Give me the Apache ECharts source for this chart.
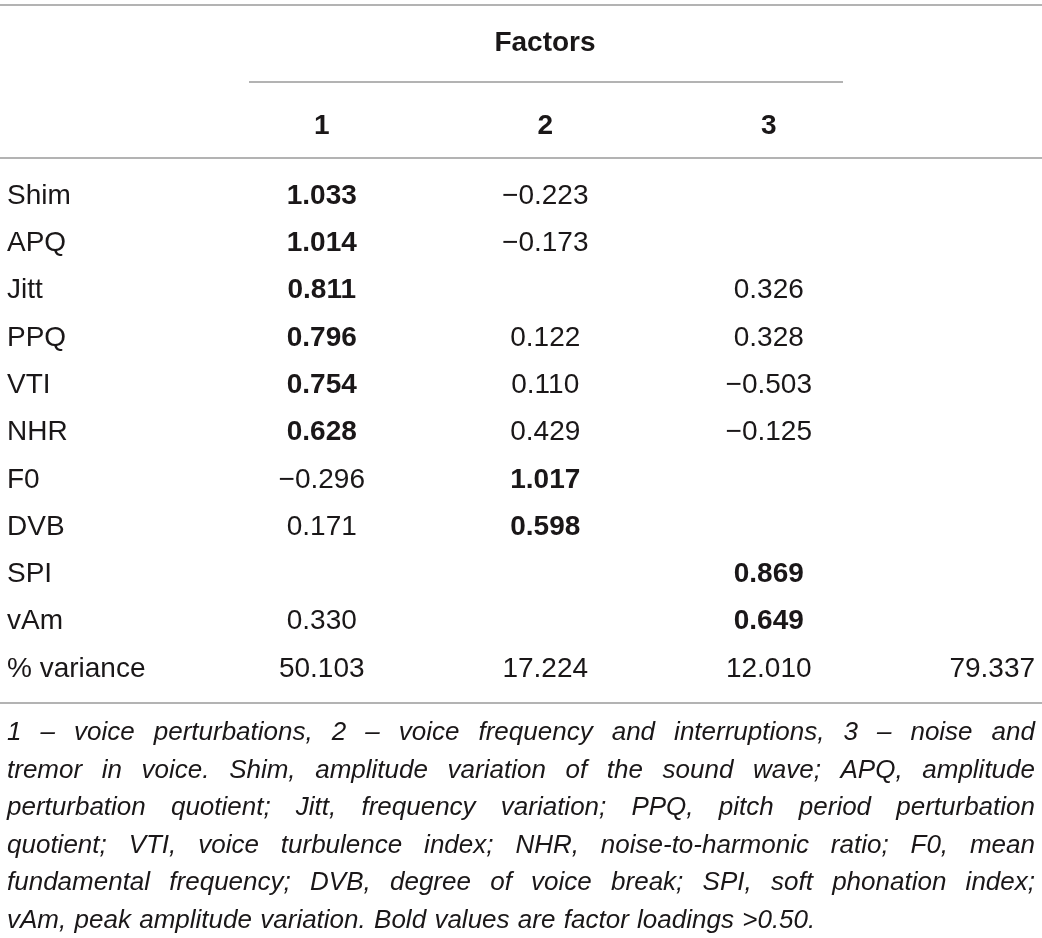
<!DOCTYPE html>
<html>
<head>
<meta charset="utf-8">
<script src="https://cdn.jsdelivr.net/npm/echarts@6/dist/echarts.min.js"></script>
<style>
  html, body { margin: 0; padding: 0; background: #fff; }
  #chart { width: 1042px; height: 938px; }
</style>
</head>
<body>
<div id="chart"></div>
<script>
// table data
var rowLabels = ['Shim', 'APQ', 'Jitt', 'PPQ', 'VTI', 'NHR', 'F0', 'DVB', 'SPI', 'vAm', '% variance'];
var factorLabels = ['1', '2', '3', ''];
var factor1 = [1.033, 1.014, 0.811, 0.796, 0.754, 0.628, -0.296, 0.171, null, 0.330, 50.103];
var factor2 = [-0.223, -0.173, null, 0.122, 0.110, 0.429, 1.017, 0.598, null, null, 17.224];
var factor3 = [null, null, 0.326, 0.328, -0.503, -0.125, null, null, 0.869, 0.649, 12.010];
var totalColumn = [null, null, null, null, null, null, null, null, null, null, 79.337];
var boldThreshold = 0.50;
var footnoteLines = [
  '1 – voice perturbations, 2 – voice frequency and interruptions, 3 – noise and',
  'tremor in voice. Shim, amplitude variation of the sound wave; APQ, amplitude',
  'perturbation quotient; Jitt, frequency variation; PPQ, pitch period perturbation',
  'quotient; VTI, voice turbulence index; NHR, noise-to-harmonic ratio; F0, mean',
  'fundamental frequency; DVB, degree of voice break; SPI, soft phonation index;',
  'vAm, peak amplitude variation. Bold values are factor loadings >0.50.'
];

var FONT = '"Liberation Sans", Arial, Helvetica, sans-serif';
var INK = '#1a1718';
var RULE = '#9a9a9a';

function formatValue(v) {
  var s = Math.abs(v).toFixed(3);
  return v < 0 ? '\u2212' + s : s;
}

function buildCells() {
  var columns = [factor1, factor2, factor3, totalColumn];
  var lastRow = rowLabels.length - 1;
  var cells = [];
  columns.forEach(function (col, c) {
    col.forEach(function (v, r) {
      if (v === null) return;
      var bold = r < lastRow && v > boldThreshold;
      cells.push({
        value: [c, r, v],
        label: { fontWeight: bold ? 'bold' : 'normal' }
      });
    });
  });
  return cells;
}

// justify footnote lines word by word, like the typeset caption
function buildFootnote(left, right, top, step) {
  var ctx = document.createElement('canvas').getContext('2d');
  var font = 'italic 26px ' + FONT;
  ctx.font = font;
  var items = [];
  footnoteLines.forEach(function (line, i) {
    var words = line.split(' ');
    var widths = words.map(function (w) { return ctx.measureText(w).width; });
    var total = widths.reduce(function (a, b) { return a + b; }, 0);
    var last = i === footnoteLines.length - 1;
    var gap = last ? ctx.measureText(' ').width * 1.15 : (right - left - total) / (words.length - 1);
    var x = left;
    words.forEach(function (w, k) {
      items.push({
        type: 'text',
        silent: true,
        style: { text: w, x: x, y: top + i * step, font: font, fill: INK, verticalAlign: 'middle' }
      });
      x += widths[k] + gap;
    });
  });
  return items;
}

function rule(x1, x2, y) {
  return {
    type: 'line',
    silent: true,
    shape: { x1: x1, y1: y, x2: x2, y2: y },
    style: { stroke: RULE, lineWidth: 1.5 }
  };
}

var chart = echarts.init(document.getElementById('chart'), null, { renderer: 'canvas' });

chart.setOption({
  backgroundColor: '#fff',
  animation: false,
  textStyle: { fontFamily: FONT, color: INK },
  // columns sit on the category points: 1, 2, 3 and the total column
  grid: { left: 321.75, top: 172.35, width: 670.5, height: 520.3, containLabel: false },
  xAxis: {
    type: 'category',
    position: 'top',
    boundaryGap: false,
    data: factorLabels,
    axisLine: { show: false },
    axisTick: { show: false },
    splitLine: { show: false },
    axisLabel: {
      interval: 0,
      margin: 46,
      verticalAlign: 'middle',
      fontSize: 28,
      fontWeight: 'bold',
      fontFamily: FONT,
      color: INK
    }
  },
  yAxis: {
    type: 'category',
    inverse: true,
    data: rowLabels,
    axisLine: { show: false },
    axisTick: { show: false },
    splitLine: { show: false },
    axisLabel: {
      interval: 0,
      align: 'left',
      margin: 314.75,
      fontSize: 28,
      fontFamily: FONT,
      color: INK
    }
  },
  series: [{
    type: 'scatter',
    symbolSize: 0,
    silent: true,
    itemStyle: { opacity: 1 },
    label: {
      show: true,
      position: 'inside',
      fontSize: 28,
      fontFamily: FONT,
      color: INK,
      opacity: 1,
      formatter: function (p) { return formatValue(p.value[2]); }
    },
    data: buildCells()
  }],
  graphic: [
    rule(0, 1042, 5),
    rule(249, 843, 82),
    rule(0, 1042, 158),
    rule(0, 1042, 703),
    {
      type: 'text',
      silent: true,
      style: {
        text: 'Factors', x: 545, y: 43, font: 'bold 28px ' + FONT,
        fill: INK, align: 'center', verticalAlign: 'middle'
      }
    }
  ].concat(buildFootnote(7, 1035, 733, 37.5))
});

window.addEventListener('resize', function () { chart.resize(); });
</script>
</body>
</html>
